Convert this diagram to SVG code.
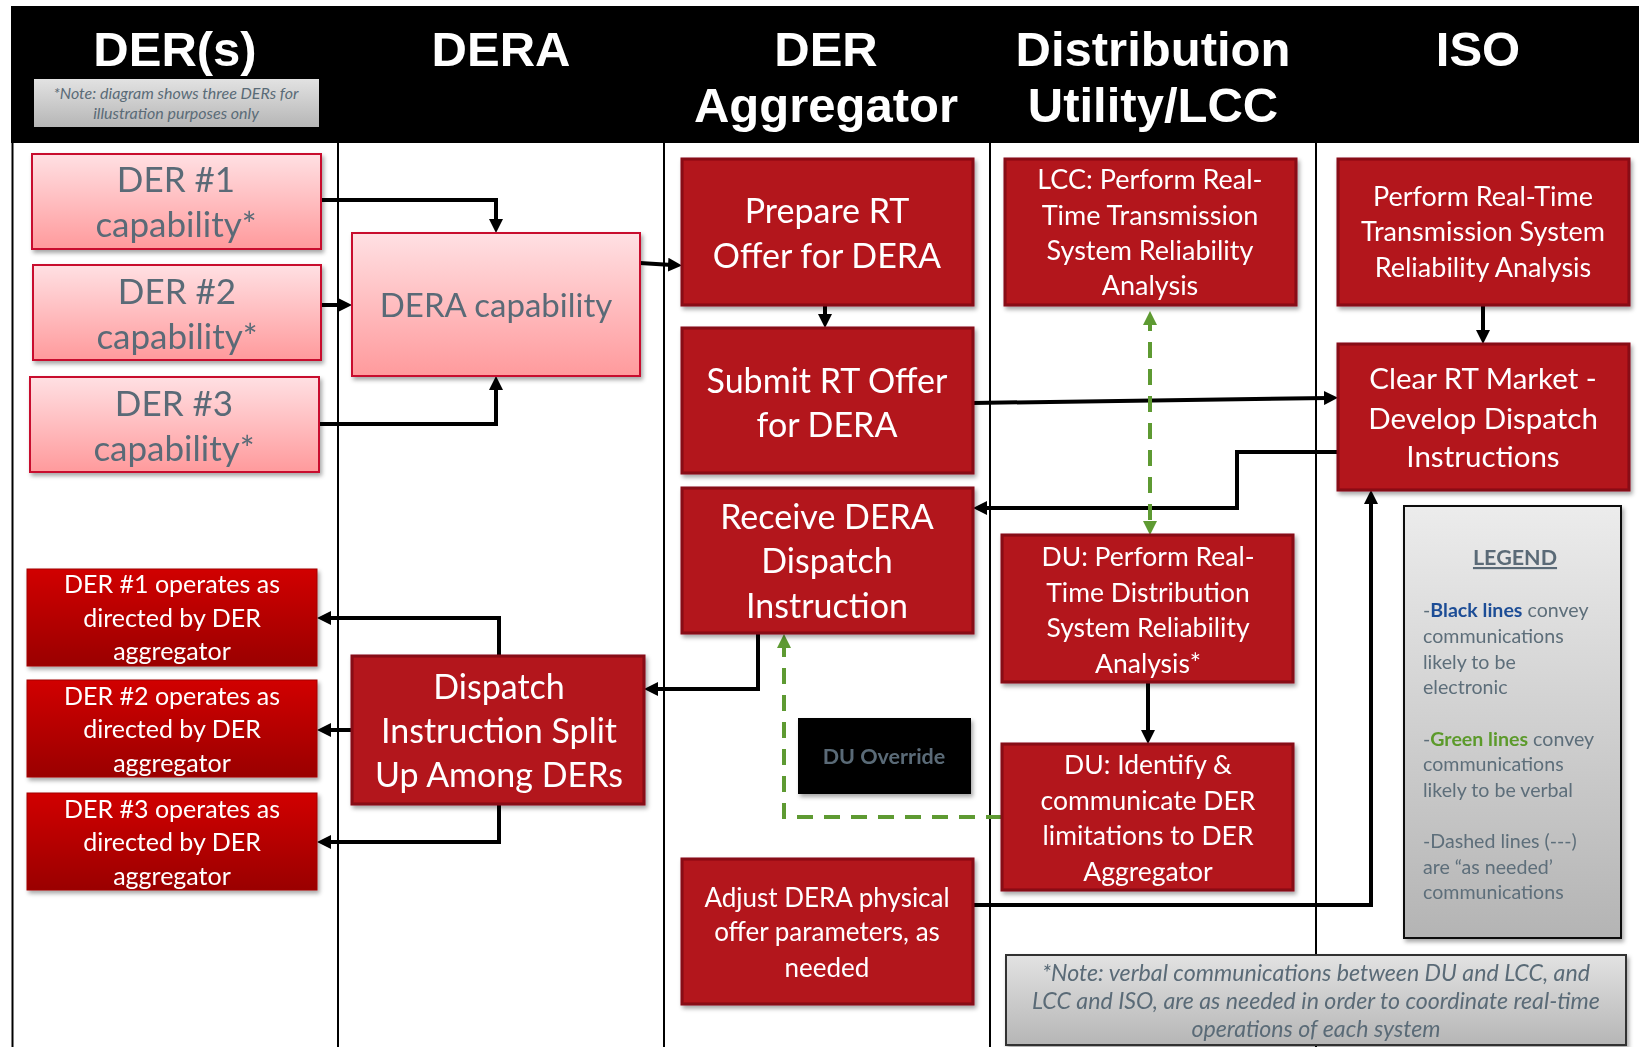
<svg xmlns="http://www.w3.org/2000/svg" width="1639" height="1047" viewBox="0 0 1639 1047">
<defs>
<linearGradient id="gPink" x1="0" y1="0" x2="0" y2="1"><stop offset="0" stop-color="#ffe0e3"/><stop offset="1" stop-color="#ff9a9c"/></linearGradient>
<linearGradient id="gOp" x1="0" y1="0" x2="0" y2="1"><stop offset="0" stop-color="#d10000"/><stop offset="1" stop-color="#9a0000"/></linearGradient>
<linearGradient id="gGray" x1="0" y1="0" x2="0" y2="1"><stop offset="0" stop-color="#ececec"/><stop offset="1" stop-color="#b4b4b4"/></linearGradient>
<linearGradient id="gNote" x1="0" y1="0" x2="0" y2="1"><stop offset="0" stop-color="#e2e2e2"/><stop offset="1" stop-color="#b6b6b6"/></linearGradient>
<filter id="sh" x="-5%" y="-5%" width="115%" height="125%"><feDropShadow dx="2" dy="3" stdDeviation="2" flood-color="#000" flood-opacity="0.35"/></filter>
<filter id="wsh" x="-20%" y="-50%" width="140%" height="200%"><feDropShadow dx="1" dy="1" stdDeviation="1" flood-color="#000" flood-opacity="0.4"/></filter>
<marker id="ah" viewBox="0 0 14 14" refX="4" refY="7" markerWidth="14" markerHeight="14" markerUnits="userSpaceOnUse" orient="auto"><path d="M0,0 L14,7 L0,14 z" fill="#000"/></marker>
<marker id="ahg" viewBox="0 0 14 14" refX="4" refY="7" markerWidth="14" markerHeight="14" markerUnits="userSpaceOnUse" orient="auto"><path d="M0,0 L14,7 L0,14 z" fill="#5e9a32"/></marker>
<marker id="ahgs" viewBox="0 0 14 14" refX="10" refY="7" markerWidth="14" markerHeight="14" markerUnits="userSpaceOnUse" orient="auto-start-reverse"><path d="M0,0 L14,7 L0,14 z" fill="#5e9a32"/></marker>
<marker id="ahw" viewBox="0 0 14 14" refX="4" refY="7" markerWidth="14" markerHeight="14" markerUnits="userSpaceOnUse" orient="auto-start-reverse"><path d="M0,0 L14,7 L0,14 z" fill="#fff"/></marker>
<style>
.lane{stroke:#000;stroke-width:2}
.hdr{font-family:"Liberation Sans",Arial,sans-serif;font-weight:bold;font-size:49px;fill:#fff;text-anchor:middle}
.red{fill:#b3131e;stroke:#870b12;stroke-width:3}
.pink{fill:url(#gPink);stroke:#c8102e;stroke-width:2}
.op{fill:url(#gOp);stroke:#a30000;stroke-width:1}
.t{font-family:Lato,"Open Sans",sans-serif;text-anchor:middle;fill:#fff}
.gt{font-family:Lato,"Open Sans",sans-serif;text-anchor:middle;fill:#5a6b77}
.conn{fill:none;stroke:#000;stroke-width:4;marker-end:url(#ah)}
.green{fill:none;stroke:#5e9a32;stroke-width:4;stroke-dasharray:16 11}
.white{fill:none;stroke:#fff;stroke-width:5}
</style>
</defs>
<rect width="1639" height="1047" fill="#fff"/>
<g id="header">
<rect x="11" y="6" width="1628" height="137" fill="#000"/>
<text class="hdr" x="175" y="66">DER(s)</text>
<text class="hdr" x="501" y="66">DERA</text>
<text class="hdr" x="826" y="66">DER</text>
<text class="hdr" x="826" y="122">Aggregator</text>
<text class="hdr" x="1153" y="66">Distribution</text>
<text class="hdr" x="1153" y="122">Utility/LCC</text>
<text class="hdr" x="1478" y="66">ISO</text>
</g>
<g id="header-note">
<rect x="34" y="79" width="285" height="48" fill="url(#gNote)"/>
<text class="gt" font-style="italic" font-size="16" fill="#626c74"><tspan x="176" y="99">*Note: diagram shows three DERs for</tspan><tspan x="176" y="119">illustration purposes only</tspan></text>
</g>
<g id="lanes">
<line class="lane" x1="12.5" y1="143" x2="12.5" y2="1047"/>
<line class="lane" x1="338" y1="143" x2="338" y2="1047"/>
<line class="lane" x1="664" y1="143" x2="664" y2="1047"/>
<line class="lane" x1="990" y1="143" x2="990" y2="1047"/>
<line class="lane" x1="1316" y1="143" x2="1316" y2="1047"/>
</g>
<g id="connectors">
<path class="conn" d="M321,200 H496 V223"/>
<path class="conn" d="M321,305 H342"/>
<path class="conn" d="M319,424 H496 V386"/>
<path class="conn" d="M640,263 L672,265"/>
<path class="conn" d="M825,305 V318"/>
<path class="conn" d="M973,403 L1328,398"/>
<path class="conn" d="M1338,452 H1237 V508 H983"/>
<path class="conn" d="M758,634 V689 H654"/>
<path class="conn" d="M499,656 V618 H327"/>
<path class="conn" d="M352,730 H327"/>
<path class="conn" d="M499,804 V842 H327"/>
<path class="conn" d="M1483,305 V334"/>
<path class="conn" d="M1148,683 V734"/>
<path class="conn" d="M973,905 H1371 V500"/>
<path class="green" d="M1150,315 V525" marker-start="url(#ahgs)" marker-end="url(#ahg)"/>
<path class="green" d="M1002,817 H784 V644" marker-end="url(#ahg)"/>
<path class="white" d="M1306,234 H1328" marker-start="url(#ahw)" marker-end="url(#ahw)" filter="url(#wsh)"/>
<path class="white" d="M1002,871 H983" marker-end="url(#ahw)" filter="url(#wsh)"/>
</g>
<g id="der1-cap" filter="url(#sh)"><rect class="pink" x="32" y="154" width="289" height="95"/><text class="gt" font-size="35"><tspan x="176" y="192">DER #1</tspan><tspan x="176" y="237">capability*</tspan></text></g>
<g id="der2-cap" filter="url(#sh)"><rect class="pink" x="33" y="265" width="288" height="95"/><text class="gt" font-size="35"><tspan x="177" y="304">DER #2</tspan><tspan x="177" y="349">capability*</tspan></text></g>
<g id="der3-cap" filter="url(#sh)"><rect class="pink" x="30" y="377" width="289" height="95"/><text class="gt" font-size="35"><tspan x="174" y="416">DER #3</tspan><tspan x="174" y="461">capability*</tspan></text></g>
<g id="dera-cap" filter="url(#sh)"><rect class="pink" x="352" y="233" width="288" height="143"/><text class="gt" font-size="33" x="496" y="317">DERA capability</text></g>
<g id="prepare" filter="url(#sh)"><rect class="red" x="682" y="159" width="291" height="146"/><text class="t" font-size="34"><tspan x="827" y="223">Prepare RT</tspan><tspan x="827" y="268">Offer for DERA</tspan></text></g>
<g id="submit" filter="url(#sh)"><rect class="red" x="682" y="328" width="291" height="145"/><text class="t" font-size="34"><tspan x="827" y="393">Submit RT Offer</tspan><tspan x="827" y="437">for DERA</tspan></text></g>
<g id="receive" filter="url(#sh)"><rect class="red" x="682" y="488" width="291" height="145"/><text class="t" font-size="34"><tspan x="827" y="529">Receive DERA</tspan><tspan x="827" y="573">Dispatch</tspan><tspan x="827" y="618">Instruction</tspan></text></g>
<g id="adjust" filter="url(#sh)"><rect class="red" x="682" y="859" width="291" height="145"/><text class="t" font-size="26"><tspan x="827" y="907">Adjust DERA physical</tspan><tspan x="827" y="941">offer parameters, as</tspan><tspan x="827" y="977">needed</tspan></text></g>
<g id="du-override" filter="url(#sh)"><rect x="798" y="718" width="173" height="76" fill="#000"/><text class="gt" font-size="21.5" font-weight="bold" fill="#4f5f6b" x="884" y="764">DU Override</text></g>
<g id="lcc" filter="url(#sh)"><rect class="red" x="1005" y="159" width="291" height="146"/><text class="t" font-size="27"><tspan x="1150" y="189">LCC: Perform Real-</tspan><tspan x="1150" y="225">Time Transmission</tspan><tspan x="1150" y="260">System Reliability</tspan><tspan x="1150" y="295">Analysis</tspan></text></g>
<g id="du-perform" filter="url(#sh)"><rect class="red" x="1002" y="535" width="291" height="147"/><text class="t" font-size="26.5"><tspan x="1148" y="566">DU: Perform Real-</tspan><tspan x="1148" y="602">Time Distribution</tspan><tspan x="1148" y="637">System Reliability</tspan><tspan x="1148" y="673">Analysis*</tspan></text></g>
<g id="du-identify" filter="url(#sh)"><rect class="red" x="1002" y="744" width="291" height="146"/><text class="t" font-size="26.5"><tspan x="1148" y="774">DU: Identify &amp;</tspan><tspan x="1148" y="810">communicate DER</tspan><tspan x="1148" y="845">limitations to DER</tspan><tspan x="1148" y="881">Aggregator</tspan></text></g>
<g id="iso-perform" filter="url(#sh)"><rect class="red" x="1338" y="159" width="291" height="146"/><text class="t" font-size="27"><tspan x="1483" y="206">Perform Real-Time</tspan><tspan x="1483" y="241">Transmission System</tspan><tspan x="1483" y="277">Reliability Analysis</tspan></text></g>
<g id="clear-rt" filter="url(#sh)"><rect class="red" x="1338" y="344" width="291" height="146"/><text class="t" font-size="29.5"><tspan x="1483" y="389">Clear RT Market -</tspan><tspan x="1483" y="429">Develop Dispatch</tspan><tspan x="1483" y="467">Instructions</tspan></text></g>
<g id="der1-op" filter="url(#sh)"><rect class="op" x="27" y="569" width="290" height="97"/><text class="t" font-size="25"><tspan x="172" y="593">DER #1 operates as</tspan><tspan x="172" y="627">directed by DER</tspan><tspan x="172" y="660">aggregator</tspan></text></g>
<g id="der2-op" filter="url(#sh)"><rect class="op" x="27" y="680" width="290" height="97"/><text class="t" font-size="25"><tspan x="172" y="705">DER #2 operates as</tspan><tspan x="172" y="738">directed by DER</tspan><tspan x="172" y="772">aggregator</tspan></text></g>
<g id="der3-op" filter="url(#sh)"><rect class="op" x="27" y="793" width="290" height="97"/><text class="t" font-size="25"><tspan x="172" y="818">DER #3 operates as</tspan><tspan x="172" y="851">directed by DER</tspan><tspan x="172" y="885">aggregator</tspan></text></g>
<g id="split" filter="url(#sh)"><rect class="red" x="352" y="656" width="292" height="148"/><text class="t" font-size="34"><tspan x="499" y="699">Dispatch</tspan><tspan x="499" y="743">Instruction Split</tspan><tspan x="499" y="787">Up Among DERs</tspan></text></g>
<g id="legend" filter="url(#sh)"><rect x="1404" y="506" width="217" height="432" fill="url(#gGray)" stroke="#111" stroke-width="2"/>
<text class="gt" font-size="21.5" font-weight="bold" text-decoration="underline" x="1515" y="565">LEGEND</text>
<text font-family="Lato,'Open Sans',sans-serif" font-size="19.6" fill="#5d6e7a">
<tspan x="1423" y="617">-<tspan font-weight="bold" fill="#1f4e96">Black lines</tspan> convey</tspan>
<tspan x="1423" y="643">communications</tspan>
<tspan x="1423" y="669">likely to be</tspan>
<tspan x="1423" y="694">electronic</tspan>
<tspan x="1423" y="746">-<tspan font-weight="bold" fill="#5c9a2c">Green lines</tspan> convey</tspan>
<tspan x="1423" y="771">communications</tspan>
<tspan x="1423" y="797">likely to be verbal</tspan>
<tspan x="1423" y="848">-Dashed lines (---)</tspan>
<tspan x="1423" y="874">are “as needed’</tspan>
<tspan x="1423" y="899">communications</tspan>
</text></g>
<g id="bottom-note" filter="url(#sh)"><rect x="1006" y="955" width="620" height="90" fill="url(#gNote)" stroke="#333" stroke-width="2"/>
<text class="gt" font-style="italic" font-size="23.2"><tspan x="1316" y="981">*Note: verbal communications between DU and LCC, and</tspan><tspan x="1316" y="1009">LCC and ISO, are as needed in order to coordinate real-time</tspan><tspan x="1316" y="1037">operations of each system</tspan></text></g>
</svg>
